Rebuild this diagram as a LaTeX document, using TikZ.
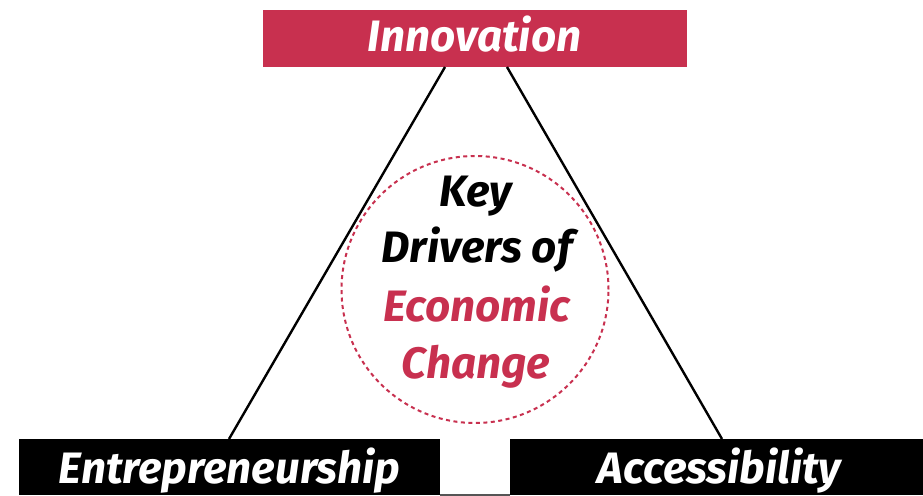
\documentclass[tikz,border=0pt]{standalone}
\usepackage{fontspec}
\setmainfont{Fira Sans}
\definecolor{brandred}{HTML}{C8304F}
\definecolor{rulegray}{HTML}{555555}
\begin{document}
\begin{tikzpicture}[x=1pt,y=1pt,
  lbl/.style={font=\fontsize{44}{52}\selectfont\bfseries\itshape, inner sep=0pt, anchor=base},
  bar/.style={draw=none, inner sep=0pt, minimum height=56pt},
  edge/.style={draw=black, line width=2.4pt}]
\useasboundingbox (0,0) rectangle (923,495);
\fill[white] (0,0) rectangle (923,495);
% boxes
\node[bar, fill=brandred, minimum width=424pt, minimum height=57pt] (inno) at (475,456.5) {};
\node[bar, fill=black, minimum width=421pt] (entre) at (229.5,28) {};
\node[bar, fill=black, minimum width=413pt] (acc) at (716.5,28) {};
\draw[rulegray, line width=1.5pt] (entre.south east) -- (acc.south west);
% texts
\node[lbl, text=white] (tinno) at (474.5,443) {Innovation};
\node[lbl, text=white] (tentre) at (229.5,12) {Entrepreneurship};
\node[lbl, text=white] (tacc) at (719.5,12) {Accessibility};
% triangle sides
\coordinate (tl) at (445,428);
\coordinate (tr) at (507,428);
\coordinate (bl) at (229,56);
\coordinate (br) at (722,56);
\draw[edge] (tl) -- (bl);
\draw[edge] (tr) -- (br);
% circle
\node[circle, draw=brandred, dash pattern=on 4pt off 3.5pt, line width=2pt, minimum size=267pt, inner sep=0pt] (hub) at (475,205.5) {};
\node[lbl, text=black] (k1) at (476,288) {Key};
\node[lbl, text=black] (k2) at (477,232) {Drivers of};
\node[lbl, text=brandred] (k3) at (477,173) {Economic};
\node[lbl, text=brandred] (k4) at (476,116) {Change};
\end{tikzpicture}
\end{document}
